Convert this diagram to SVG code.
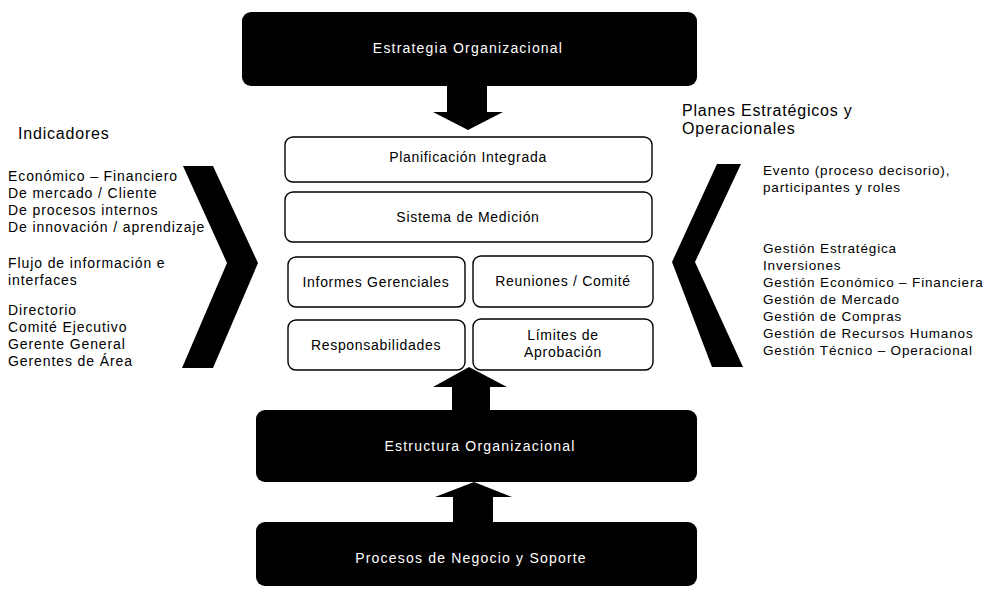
<svg xmlns="http://www.w3.org/2000/svg" width="990" height="590" viewBox="0 0 990 590">
  <style>
    text { font-family: "Liberation Sans", Arial, Helvetica, sans-serif; fill: #000; }
    .band { fill: #000; }
    .band-label { fill: #fff; font-size: 14px; text-anchor: middle; letter-spacing: 1.2px; }
    .box { fill: #fff; stroke: #000; stroke-width: 1.4; }
    .box-label { font-size: 14px; text-anchor: middle; letter-spacing: 0.7px; }
    .head { font-size: 16px; letter-spacing: 0.8px; }
    .item { font-size: 14px; letter-spacing: 0.9px; }
    .item-r { font-size: 13.5px; letter-spacing: 0.85px; }
    .chevron, .arrow { fill: #000; }
  </style>

  <!-- top band -->
  <g id="estrategia">
    <rect class="band" x="242" y="12" width="455" height="74" rx="9"/>
    <text class="band-label" x="468" y="53">Estrategia Organizacional</text>
  </g>

  <!-- central stack -->
  <g id="planificacion">
    <rect class="box" x="285" y="137" width="367" height="45" rx="8"/>
    <text class="box-label" x="468" y="162">Planificación Integrada</text>
  </g>
  <g id="sistema-medicion">
    <rect class="box" x="285" y="192" width="367" height="50" rx="8"/>
    <text class="box-label" x="468" y="222">Sistema de Medición</text>
  </g>
  <g id="informes">
    <rect class="box" x="288" y="257" width="177" height="50" rx="8"/>
    <text class="box-label" x="376" y="287">Informes Gerenciales</text>
  </g>
  <g id="reuniones">
    <rect class="box" x="473" y="256" width="180" height="51" rx="8"/>
    <text class="box-label" x="563" y="286">Reuniones / Comité</text>
  </g>
  <g id="responsabilidades">
    <rect class="box" x="288" y="320" width="177" height="50" rx="8"/>
    <text class="box-label" x="376" y="350">Responsabilidades</text>
  </g>
  <g id="limites">
    <rect class="box" x="473" y="319" width="180" height="51" rx="8"/>
    <text class="box-label" x="563" y="340">Límites de</text>
    <text class="box-label" x="563" y="357">Aprobación</text>
  </g>

  <!-- lower bands -->
  <g id="estructura">
    <rect class="band" x="256" y="410" width="441" height="72" rx="9"/>
    <text class="band-label" x="480" y="451">Estructura Organizacional</text>
  </g>
  <g id="procesos">
    <rect class="band" x="256" y="522" width="441" height="64" rx="9"/>
    <text class="band-label" x="471" y="563">Procesos de Negocio y Soporte</text>
  </g>

  <!-- side panels -->
  <g id="indicadores">
    <text class="head" x="18" y="139">Indicadores</text>
    <text class="item" x="8" y="181">Económico – Financiero</text>
    <text class="item" x="8" y="198">De mercado / Cliente</text>
    <text class="item" x="8" y="215">De procesos internos</text>
    <text class="item" x="8" y="232">De innovación / aprendizaje</text>
    <text class="item" x="8" y="268">Flujo de información e</text>
    <text class="item" x="8" y="285">interfaces</text>
    <text class="item" x="8" y="315">Directorio</text>
    <text class="item" x="8" y="332">Comité Ejecutivo</text>
    <text class="item" x="8" y="349">Gerente General</text>
    <text class="item" x="8" y="366">Gerentes de Área</text>
  </g>
  <g id="planes">
    <text class="head" x="682" y="116">Planes Estratégicos y</text>
    <text class="head" x="682" y="134">Operacionales</text>
    <text class="item-r" x="763" y="175">Evento (proceso decisorio),</text>
    <text class="item-r" x="763" y="192">participantes y roles</text>
    <text class="item-r" x="763" y="253">Gestión Estratégica</text>
    <text class="item-r" x="763" y="270">Inversiones</text>
    <text class="item-r" x="763" y="287">Gestión Económico – Financiera</text>
    <text class="item-r" x="763" y="304">Gestión de Mercado</text>
    <text class="item-r" x="763" y="321">Gestión de Compras</text>
    <text class="item-r" x="763" y="338">Gestión de Recursos Humanos</text>
    <text class="item-r" x="763" y="355">Gestión Técnico – Operacional</text>
  </g>

  <!-- connectors: block arrows and chevrons -->
  <g id="connectors">
    <polygon class="arrow" points="447,86 487,86 487,112 503,112 468,130 433,112 447,112"/>
    <polygon class="arrow" points="452,410 490,410 490,387 507,387 469,367 433,387 452,387"/>
    <polygon class="arrow" points="453,522 493,522 493,497 512,497 474,482 435,497 453,497"/>
    <polygon class="chevron" points="183,166 213,166 258,263 213,368 182,368 227,263"/>
    <polygon class="chevron" points="717,164 741,164 695,262 743,367 712,367 672,262"/>
  </g>
</svg>
